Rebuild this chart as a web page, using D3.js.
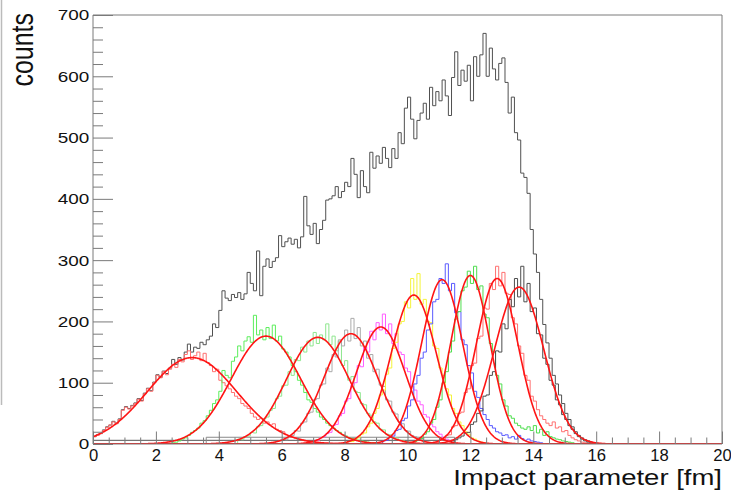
<!DOCTYPE html>
<html>
<head>
<meta charset="utf-8">
<script src="https://cdn.jsdelivr.net/npm/d3@7"></script>
<style>
  body { margin: 0; background: #fff; }
  svg { display: block; font-family: "Liberation Sans", Arial, sans-serif; }
</style>
</head>
<body>
<div id="chart"></div>
<script>
// ── Data (bin width 0.1 fm, values = counts per bin) ─────────────────────
const BIN = 0.1;

// total impact-parameter distribution, bins starting at b = 0.0
const totalStart = 0.0;
const totalCounts = [
  12, 15, 17, 23, 28, 31, 37, 34, 41, 56,
  61, 58, 63, 67, 74, 71, 83, 91, 87, 101,
  113, 109, 119, 115, 124, 138, 130, 141, 137, 150,
  163, 150, 158, 156, 166, 162, 170, 176, 196, 190,
  218, 250, 238, 234, 244, 239, 247, 236, 245, 280,
  262, 250, 315, 242, 290, 302, 288, 298, 304, 340,
  322, 330, 336, 326, 334, 320, 338, 404, 356, 342,
  360, 327, 350, 365, 398, 400, 405, 420, 402, 412,
  427, 420, 466, 440, 402, 446, 420, 410, 476, 450,
  470, 458, 484, 466, 451, 482, 466, 508, 490, 548,
  566, 530, 498, 528, 540, 556, 530, 582, 552, 575,
  560, 594, 568, 536, 598, 640, 585, 610, 592, 618,
  560, 632, 600, 635, 670, 600, 646, 612, 594, 621,
  630, 590, 540, 566, 508, 496, 442, 435, 409, 350,
  310, 280, 236, 195, 165, 140, 112, 98, 80, 66,
  50, 40, 28, 20, 14, 10, 7, 5, 3, 2, 1
];

// centrality classes: first bin edge and counts
const classStart = [0.0, 2.5, 4.6, 5.8, 7.0, 8.0, 9.2, 10.2, 11.0, 11.4];
const class1 = [
  12, 14, 17, 22, 27, 31, 36, 33, 40, 55,
  60, 57, 62, 66, 73, 70, 82, 90, 86, 100,
  112, 108, 118, 113, 122, 130, 125, 138, 134, 146,
  152, 138, 144, 150, 136, 148, 133, 128, 118, 122,
  104, 100, 95, 90, 84, 78, 74, 66, 62, 58,
  50, 44, 40, 42, 34, 36, 31, 33, 24, 22,
  20, 15, 14, 11, 10, 8, 7, 5, 4, 4,
  3, 2, 2, 1, 1, 1
];
const class2 = [
  2, 3, 5, 8, 10,
  14, 19, 22, 26, 34, 38, 46, 55, 66, 72,
  86, 120, 112, 108, 135, 142, 160, 152, 168, 175,
  166, 210, 178, 186, 170, 190, 172, 194, 168, 176,
  155, 150, 142, 128, 118, 104, 96, 84, 72, 68,
  58, 52, 44, 40, 34, 30, 26, 22, 19, 15,
  13, 10, 9, 7, 6, 5, 4, 3, 2, 2, 1
];
const class3 = [
  8, 7, 12, 13, 19, 18, 28, 30, 41, 44,
  55, 58, 74, 78, 95, 96, 118, 112, 138, 136,
  158, 150, 168, 160, 182, 164, 178, 170, 196, 162,
  176, 152, 168, 128, 136, 104, 110, 86, 84, 66,
  64, 50, 47, 36, 34, 24, 23, 16, 15, 10,
  10, 6, 6, 4, 3
];
const class4 = [
  4, 5, 8, 7, 13, 14, 22, 21, 34, 36,
  50, 52, 72, 74, 96, 98, 124, 118, 146, 142,
  170, 160, 186, 168, 205, 172, 190, 160, 168, 140,
  146, 118, 122, 96, 94, 72, 70, 52, 49, 36,
  33, 22, 21, 14, 12, 8, 7, 4, 3
];
const class5 = [
  5, 6, 10, 12, 17, 19, 30, 32, 46, 50,
  70, 74, 96, 100, 128, 126, 158, 150, 184, 170,
  198, 186, 212, 180, 196, 164, 180, 150, 146, 124,
  118, 94, 88, 70, 64, 48, 44, 32, 28, 20,
  16, 11, 8, 5
];
const class6 = [
  2, 4, 4, 8, 10, 16, 18, 28, 34, 50,
  58, 80, 88, 114, 124, 156, 166, 196, 200, 232,
  222, 270, 236, 278, 228, 236, 200, 198, 160, 156,
  124, 112, 90, 80, 58, 50, 36, 30, 20, 16,
  10, 8, 5, 3, 2
];
const class7 = [
  5, 6, 11, 13, 22, 24, 38, 42, 62, 72,
  98, 112, 140, 150, 186, 196, 232, 236, 270, 262,
  294, 250, 262, 214, 216, 170, 162, 128, 116, 86,
  76, 58, 48, 40, 30, 26, 20, 18, 14, 15,
  10, 12, 8, 14, 9, 6, 8, 5, 4, 3, 2
];
const class8 = [
  4, 7, 9, 16, 20, 34, 40, 60, 72, 100,
  118, 150, 168, 204, 216, 250, 256, 282, 262, 290,
  252, 258, 212, 206, 164, 150, 112, 98, 72, 62,
  46, 42, 34, 30, 26, 24, 28, 22, 30, 18,
  24, 14, 20, 12, 10, 8, 7, 5, 4, 3, 2
];
const class9 = [
  6, 7, 14, 15, 28, 30, 50, 52, 84, 90,
  128, 132, 172, 176, 222, 220, 262, 252, 290, 258,
  280, 246, 244, 206, 196, 160, 148, 112, 104, 78,
  70, 56, 46, 40, 34, 30, 36, 26, 28, 20,
  22, 14, 10, 7, 5, 3, 2
];
const class10 = [
  5, 7, 10, 13, 18, 19, 32, 36, 50, 54,
  78, 80, 112, 118, 152, 150, 196, 188, 236, 224,
  270, 240, 290, 232, 262, 216, 222, 180, 178, 140,
  130, 104, 96, 72, 64, 48, 40, 30, 24, 17,
  12, 8, 5, 3
];
const classCounts = [class1, class2, class3, class4, class5, class6, class7, class8, class9, class10];
const classColors = ["#ff7070", "#5cee5c", "#8ee68e", "#aaaaaa", "#ff5cff",
                     "#f4f43a", "#5a5aff", "#4fde4f", "#ff7070", "#4d4d4d"];

// Gaussian fit parameters of each class
const fitMean  = [3.15, 5.5, 7.15, 8.2, 9.15, 10.2, 11.1, 12.0, 12.85, 13.55];
const fitAmp   = [141, 176, 174, 180, 191, 243, 268, 275, 270, 256];
const fitSigma = [1.42, 1.1, 1.0, 0.85, 0.78, 0.72, 0.66, 0.62, 0.66, 0.78];

// low flat contributions near the axis: [from, to, counts]
const baseLines = [[0, 11.5, 6], [3.6, 11.5, 11]];

const xMajor = d3.range(0, 20.01, 2);
const xMinor = d3.range(0, 20.01, 0.5).filter(v => v % 2 !== 0);
const yMajor = d3.range(0, 701, 100);
const yMinor = d3.range(0, 701, 20).filter(v => v % 100 !== 0);

// ── Layout ────────────────────────────────────────────────────────────────
const W = 731, H = 498;
const x = d3.scaleLinear().domain([0, 20]).range([93, 722]);
const y = d3.scaleLinear().domain([0, 700]).range([444, 15]);

const svg = d3.select("#chart").append("svg")
    .attr("width", W).attr("height", H);

svg.append("defs").append("clipPath").attr("id", "plot-clip")
  .append("rect")
    .attr("x", x(0)).attr("y", y(700))
    .attr("width", x(20) - x(0)).attr("height", y(0) - y(700));

// faint edge of neighbouring pad
svg.append("line")
    .attr("x1", 1.5).attr("x2", 1.5).attr("y1", 0).attr("y2", 405)
    .style("stroke", "#bbb").style("stroke-width", 1.5);

const plot = svg.append("g").attr("clip-path", "url(#plot-clip)");

function stepPoints(start, vals) {
  const pts = [[start, 0]];
  vals.forEach((v, i) => pts.push([start + i * BIN, v]));
  pts.push([start + vals.length * BIN, 0]);
  return pts;
}

const stepLine = d3.line()
    .x(d => x(d[0])).y(d => y(d[1]))
    .curve(d3.curveStepAfter);

// total
plot.append("path")
    .attr("d", stepLine(stepPoints(totalStart, totalCounts)))
    .style("fill", "none").style("stroke", "#505050").style("stroke-width", 1);

// flat baselines
plot.selectAll(".base").data(baseLines).join("path")
    .attr("class", "base")
    .attr("d", d => stepLine([[d[0], 0], [d[0], d[2]], [d[1], 0]]))
    .style("fill", "none")
    .style("stroke", (d, i) => i === 0 ? "#555" : "#888")
    .style("stroke-width", 1);

// class histograms
plot.selectAll(".cls").data(classCounts).join("path")
    .attr("class", "cls")
    .attr("d", (d, i) => stepLine(stepPoints(classStart[i], d)))
    .style("fill", "none")
    .style("stroke", (d, i) => classColors[i])
    .style("stroke-width", 1);

// gaussian fits
const fitX = d3.range(0, 20.001, 0.02);
const fitLine = d3.line().x(d => x(d[0])).y(d => y(d[1]));
plot.selectAll(".fit").data(fitMean).join("path")
    .attr("class", "fit")
    .attr("d", (m, i) => fitLine(fitX.map(b =>
        [b, fitAmp[i] * Math.exp(-0.5 * Math.pow((b - m) / fitSigma[i], 2))])))
    .style("fill", "none")
    .style("stroke", "#ff1414")
    .style("stroke-width", 1.6);

// ── Axes (ROOT style, ticks inside) ───────────────────────────────────────
const axisColor = "#7a7a7a";

function styleAxis(g) {
  g.select(".domain").remove();
  g.selectAll("line").style("stroke", axisColor).style("stroke-width", 1);
}

const yAx = svg.append("g").attr("transform", `translate(${x(0)},0)`);
yAx.call(d3.axisLeft(y).tickValues(yMajor).tickSize(-20).tickPadding(3))
   .call(styleAxis);
yAx.selectAll("text")
    .style("font-size", "15.5px").style("fill", "#111")
    .attr("transform", "scale(1.22,1)");
svg.append("g").attr("transform", `translate(${x(0)},0)`)
   .call(d3.axisLeft(y).tickValues(yMinor).tickSize(-10).tickFormat(""))
   .call(styleAxis);

const xAx = svg.append("g").attr("transform", `translate(0,${y(0)})`);
xAx.call(d3.axisBottom(x).tickValues(xMajor).tickSize(-12.5).tickPadding(5.5))
   .call(styleAxis);
xAx.selectAll("text")
    .style("font-size", "16px").style("fill", "#111")
    .attr("transform", "scale(1.04,1)");
svg.append("g").attr("transform", `translate(0,${y(0)})`)
   .call(d3.axisBottom(x).tickValues(xMinor).tickSize(-6.5).tickFormat(""))
   .call(styleAxis);

// frame
svg.append("path")
    .attr("d", `M${x(0)},${y(0)}V${y(700)}H${x(20)}V${y(0)}H${x(0)}`)
    .style("fill", "none").style("stroke", axisColor).style("stroke-width", 1);

// titles
svg.append("g").attr("transform", `translate(${x(20)},485)`)
  .append("text")
    .attr("transform", "scale(1.25,1)")
    .style("text-anchor", "end")
    .style("font-size", "22px")
    .style("fill", "#111")
    .text("Impact parameter [fm]");

svg.append("text")
    .attr("transform", "translate(33,13) scale(1.25,1) rotate(-90)")
    .style("text-anchor", "end")
    .style("font-size", "25px")
    .style("fill", "#111")
    .text("counts");
</script>
</body>
</html>
